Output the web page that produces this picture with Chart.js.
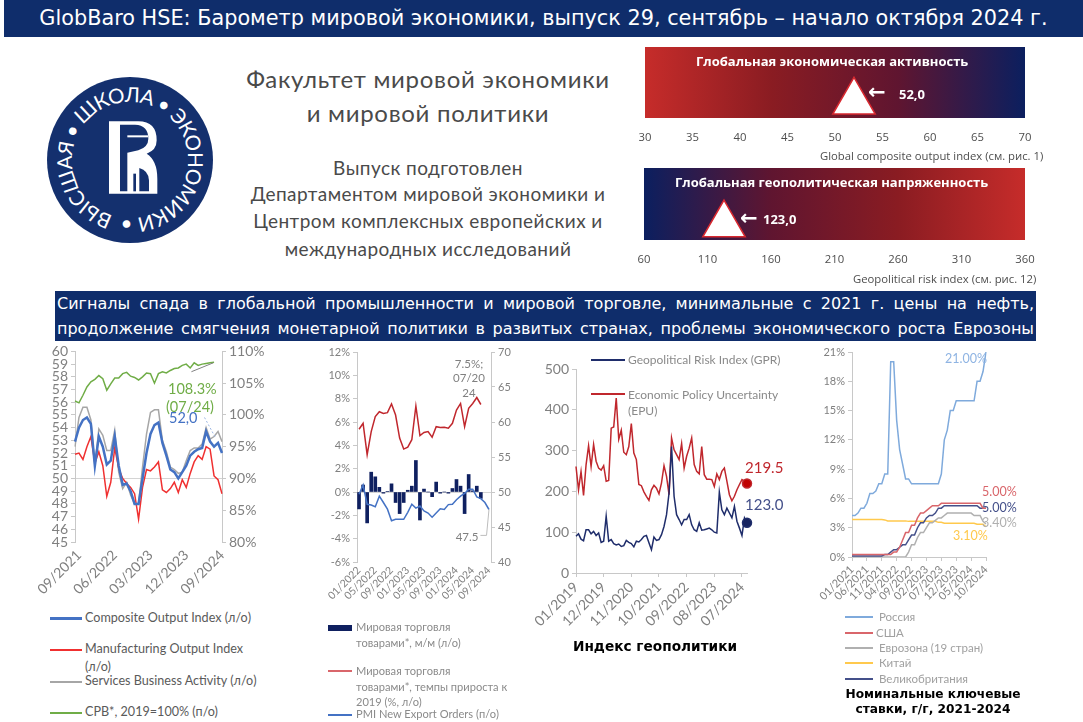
<!DOCTYPE html>
<html lang="ru">
<head>
<meta charset="utf-8">
<title>GlobBaro HSE</title>
<script src="https://cdn.jsdelivr.net/npm/chart.js@4"></script>
<style>
  html, body { margin: 0; padding: 0; background: #fff; }
  #page { position: relative; width: 1083px; height: 722px; overflow: hidden; font-family: Lato, sans-serif; }
  #page canvas { position: absolute; }
  .t { position: absolute; white-space: nowrap; line-height: 20px; }
  .c { transform: translateX(-50%); text-align: center; }
  .band { position: absolute; background: #0f2d6b; color: #fff; font-family: "DejaVu Sans", sans-serif; }
  .sw { position: absolute; }
  .head { color: #4a4a4a; font-size: 24px; letter-spacing: 0.7px; }
  .sub { color: #4a4a4a; font-size: 19px; letter-spacing: 0.45px; }
  .gt { color: #fff; font-family: "Open Sans", sans-serif; font-weight: 700; }
  .gc { color: #4d4d4d; font-family: "Open Sans", sans-serif; font-size: 11.3px; }
  .l1 { color: #5a5a5a; font-size: 12.6px; }
  .l2 { color: #8a8a8a; font-size: 11.1px; }
  .l3 { color: #8a8a8a; font-size: 12px; }
  .l4 { color: #a0a0a0; font-size: 11.5px; }
  .cap { color: #000; font-family: "DejaVu Sans", sans-serif; font-weight: 700; }
</style>
</head>
<body>
<div id="page">
  <div class="band" style="left:4px;top:0;width:1079px;height:37px;line-height:37px;font-size:20.8px;text-align:center;">GlobBaro HSE: Барометр мировой экономики, выпуск 29, сентябрь – начало октября 2024 г.</div>

  <svg style="position:absolute;left:0;top:0" width="240" height="270">
    <circle cx="130" cy="160" r="83" fill="#14306e"/>
    <defs><path id="ring" d="M113,215.5 A58,58 0 0 1 147,104.5 A58,58 0 0 1 113,215.5"/></defs>
    <text font-family="Lato, sans-serif" font-size="20.5" fill="#fff"><textPath href="#ring" textLength="356" lengthAdjust="spacing">ВЫСШАЯ • ШКОЛА • ЭКОНОМИКИ •</textPath></text>
    <g transform="translate(100,112) scale(0.3333)">
      <path fill="#fff" d="M27,28 H115 Q170,28 170,85 Q170,115 140,125 Q172,145 172,200 V245 H27 Z"/>
      <path fill="#14306e" d="M60,38 H105 Q145,40 145,80 Q145,105 115,115 L82,122 V238 H60 Z"/>
      <rect fill="#fff" x="82" y="70" width="62" height="6"/>
      <path fill="#14306e" d="M118,168 Q145,175 147,205 V238 H118 Z"/>
      <rect fill="#14306e" x="100" y="185" width="8" height="53"/>
    </g>
  </svg>

  <div class="t c head" style="left:428px;top:69px;">Факультет мировой экономики</div>
  <div class="t c head" style="left:428px;top:103px;">и мировой политики</div>
  <div class="t c sub" style="left:428px;top:158px;">Выпуск подготовлен</div>
  <div class="t c sub" style="left:428px;top:184px;">Департаментом мировой экономики и</div>
  <div class="t c sub" style="left:428px;top:211px;">Центром комплексных европейских и</div>
  <div class="t c sub" style="left:428px;top:239px;">международных исследований</div>

  <canvas id="gaugeActivity" width="440" height="110" style="left:620px;top:40px"></canvas>
  <canvas id="gaugeRisk" width="440" height="110" style="left:620px;top:162px"></canvas>
  <div class="t gt" style="left:696px;top:51px;font-size:13px;">Глобальная экономическая активность</div>
  <div class="t gt" style="left:675px;top:172px;font-size:13px;">Глобальная геополитическая напряженность</div>
  <div class="t gt" style="left:868px;top:82px;font-size:21px;font-family:'DejaVu Sans'">←</div>
  <div class="t gt" style="left:899px;top:84px;font-size:13px;">52,0</div>
  <div class="t gt" style="left:740px;top:208px;font-size:21px;font-family:'DejaVu Sans'">←</div>
  <div class="t gt" style="left:763px;top:209px;font-size:13px;">123,0</div>
  <div class="t gc" style="left:820px;top:146px;">Global composite output index (см. рис. 1)</div>
  <div class="t gc" style="left:853px;top:269px;">Geopolitical risk index (см. рис. 12)</div>

  <div class="band" style="left:55px;top:291px;width:981px;height:50px;font-size:16px;line-height:25px;">
    <div style="padding:0 2px;white-space:nowrap;text-align:justify;text-align-last:justify;">Сигналы спада в глобальной промышленности и мировой торговле, минимальные с 2021 г. цены на нефть,</div>
    <div style="padding:0 2px;white-space:nowrap;text-align:justify;text-align-last:justify;">продолжение смягчения монетарной политики в развитых странах, проблемы экономического роста Еврозоны</div>
  </div>

  <canvas id="pmiChart" width="290" height="262" style="left:0;top:340px"></canvas>
  <canvas id="tradeChart" width="230" height="282" style="left:300px;top:340px"></canvas>
  <canvas id="riskChart" width="260" height="300" style="left:530px;top:340px"></canvas>
  <canvas id="ratesChart" width="293" height="260" style="left:790px;top:340px"></canvas>

  <div class="t" style="left:168px;top:379px;font-size:14.5px;color:#70ad47;">108.3%</div>
  <div class="t" style="left:166px;top:397px;font-size:14.5px;color:#70ad47;">(07/24)</div>
  <div class="t" style="left:169px;top:408px;font-size:14.5px;color:#4472c4;">52,0</div>

  <div class="t c" style="left:469px;top:354px;font-size:11.5px;color:#808080;">7.5%;</div>
  <div class="t c" style="left:469px;top:368px;font-size:11.5px;color:#808080;">07/20</div>
  <div class="t c" style="left:469px;top:383px;font-size:11.5px;color:#808080;">24</div>
  <div class="t c" style="left:467px;top:527px;font-size:11.5px;color:#808080;">47.5</div>

  <div class="sw" style="left:591px;top:359px;width:34px;height:2px;background:#1f2d6b"></div>
  <div class="t l3" style="left:628px;top:350px;">Geopolitical Risk Index (GPR)</div>
  <div class="sw" style="left:591px;top:393px;width:34px;height:2px;background:#c0272d"></div>
  <div class="t l3" style="left:628px;top:385px;">Economic Policy Uncertainty</div>
  <div class="t l3" style="left:628px;top:401px;">(EPU)</div>
  <div class="t" style="left:745px;top:457px;font-size:15px;color:#c0272d;">219.5</div>
  <div class="t" style="left:745px;top:494px;font-size:15px;color:#44508a;">123.0</div>

  <div class="t" style="left:945px;top:349px;font-size:12.5px;color:#8fb4e3;">21.00%</div>
  <div class="t" style="left:982px;top:482px;font-size:12.5px;color:#d9666b;">5.00%</div>
  <div class="t" style="left:982px;top:498px;font-size:12.5px;color:#44508a;">5.00%</div>
  <div class="t" style="left:982px;top:513px;font-size:12.5px;color:#b0b0b0;">3.40%</div>
  <div class="t" style="left:953px;top:526px;font-size:12.5px;color:#ffc94d;">3.10%</div>

  <div class="sw" style="left:50px;top:617px;width:32px;height:2.5px;background:#4472c4"></div>
  <div class="t l1" style="left:85px;top:608px;">Composite Output Index (л/о)</div>
  <div class="sw" style="left:50px;top:649px;width:32px;height:1.5px;background:#f03030"></div>
  <div class="t l1" style="left:85px;top:639px;">Manufacturing Output Index</div>
  <div class="t l1" style="left:85px;top:657px;">(л/о)</div>
  <div class="sw" style="left:50px;top:681px;width:32px;height:1.5px;background:#a6a6a6"></div>
  <div class="t l1" style="left:85px;top:671px;">Services Business Activity (л/о)</div>
  <div class="sw" style="left:50px;top:712px;width:32px;height:1.5px;background:#70ad47"></div>
  <div class="t l1" style="left:85px;top:702px;">СРВ*, 2019=100% (п/о)</div>

  <div class="sw" style="left:328px;top:625px;width:24px;height:6px;background:#0f2060"></div>
  <div class="t l2" style="left:356px;top:617px;">Мировая торговля</div>
  <div class="t l2" style="left:356px;top:633px;">товарами*, м/м (л/о)</div>
  <div class="sw" style="left:328px;top:670px;width:24px;height:2px;background:#d9666b"></div>
  <div class="t l2" style="left:356px;top:661px;">Мировая торговля</div>
  <div class="t l2" style="left:356px;top:677px;">товарами*, темпы прироста к</div>
  <div class="t l2" style="left:356px;top:692px;">2019 (%, л/о)</div>
  <div class="sw" style="left:328px;top:714px;width:24px;height:1.5px;background:#4472c4"></div>
  <div class="t l2" style="left:356px;top:704px;">PMI New Export Orders (п/о)</div>

  <div class="t c cap" style="left:655px;top:636px;font-size:13.7px;">Индекс геополитики</div>

  <div class="sw" style="left:845px;top:616px;width:28px;height:2px;background:#7faadc"></div>
  <div class="t l4" style="left:879px;top:607px;">Россия</div>
  <div class="sw" style="left:845px;top:632px;width:28px;height:2px;background:#d9666b"></div>
  <div class="t l4" style="left:876px;top:623px;">США</div>
  <div class="sw" style="left:845px;top:647px;width:28px;height:2px;background:#b0b0b0"></div>
  <div class="t l4" style="left:879px;top:638px;">Еврозона (19 стран)</div>
  <div class="sw" style="left:845px;top:662px;width:28px;height:2px;background:#ffc94d"></div>
  <div class="t l4" style="left:879px;top:653px;">Китай</div>
  <div class="sw" style="left:845px;top:678px;width:28px;height:2px;background:#44508a"></div>
  <div class="t l4" style="left:879px;top:669px;">Великобритания</div>

  <div class="t c cap" style="left:933px;top:684px;font-size:12.2px;">Номинальные ключевые</div>
  <div class="t c cap" style="left:933px;top:699px;font-size:12.2px;">ставки, г/г, 2021-2024</div>
</div>

<script>
// --- data ---

// PMI panel, monthly, 08/2021 - 09/2024
const pmiTicks = ['09/2021', '06/2022', '03/2023', '12/2023', '09/2024'];
const composite = [52.9, 54.0, 54.6, 54.8, 54.3, 51.0, 53.3, 52.5, 51.1, 51.4, 53.3, 51.0, 49.5, 49.6, 49.0, 48.0, 48.0, 50.0, 52.0, 53.5, 54.2, 54.4, 52.8, 51.8, 50.7, 50.5, 50.0, 50.5, 51.0, 51.8, 52.1, 52.3, 52.4, 53.7, 52.9, 52.5, 52.8, 52.0];
const manufacturing = [51.9, 52.0, 51.5, 52.5, 53.3, 51.2, 52.1, 51.0, 48.6, 49.7, 52.4, 50.8, 50.0, 49.6, 49.3, 48.8, 46.8, 49.3, 50.7, 50.6, 50.9, 51.3, 49.1, 48.9, 49.2, 49.7, 48.9, 49.9, 49.3, 50.4, 51.3, 51.8, 51.5, 52.5, 52.3, 50.2, 49.9, 48.8];
const services = [52.5, 54.8, 55.6, 55.6, 54.6, 51.0, 53.9, 53.4, 52.2, 52.2, 53.8, 50.5, 49.2, 49.7, 48.7, 48.0, 48.0, 50.9, 53.5, 55.2, 55.4, 55.4, 53.0, 52.1, 50.9, 50.7, 50.4, 50.5, 51.4, 52.2, 52.4, 52.4, 52.7, 54.0, 53.1, 53.3, 53.7, 52.9];
const worldTradeCpb = [102.2, 101.9, 103.1, 104.4, 105.2, 105.6, 106.2, 105.7, 103.9, 104.9, 105.8, 105.8, 106.5, 106.7, 106.1, 105.9, 105.5, 106.0, 106.6, 106.5, 105.0, 106.5, 106.8, 106.6, 107.0, 107.3, 107.4, 107.8, 108.0, 107.4, 108.2, 107.8, 108.0, 108.1, 108.2, 108.3, null, null];

// trade panel, monthly, 01/2022 - 09/2024
const tradeTicks = ['01/2022', '05/2022', '09/2022', '01/2023', '05/2023', '09/2023', '01/2024', '05/2024', '09/2024'];
const tradeMoM = [-1.45, 0.6, -2.65, 1.7, 1.3, 0.4, -0.1, 0.05, 0.7, -0.9, -1.85, -0.9, 0.15, 0.5, 2.7, -2.4, 0.25, 0, -0.4, 0.85, -0.1, 0, -0.1, 0.3, 1.07, 0.5, -1.85, 1.5, 0.1, 0.5, -0.55, null, null];
const tradeTo2019 = [5.38, 5.89, 3.2, 5.18, 6.46, 6.88, 6.74, 6.8, 7.54, 6.6, 4.62, 3.68, 3.85, 4.48, 7.37, 4.84, 5.1, 5.18, 4.7, 5.6, 5.52, 5.55, 5.47, 5.89, 7.03, 7.59, 5.6, 7.17, 7.59, 8.1, 7.5, null, null];
const exportOrders = [49.67, 51.0, 48.25, 48.15, 47.9, 49.4, 48.5, 47.55, 45.9, 46.1, 46.1, 46.1, 47.1, 48.25, 47.7, 48.0, 47.3, 47.0, 46.4, 47.0, 47.6, 47.5, 48.2, 48.25, 48.9, 49.4, 49.8, 50.4, 50.4, 49.3, 49.05, 48.5, 47.5];

// risk panel, monthly, 01/2019 - 09/2024
const riskTicks = ['01/2019', '12/2019', '11/2020', '10/2021', '09/2022', '08/2023', '07/2024'];
const gpr = [90, 96, 83, 79, 106, 106, 96, 102, 92, 98, 75, 78, 139, 78, 82, 72, 69, 71, 65, 67, 80, 75, 72, 64, 78, 76, 82, 90, 92, 74, 57, 88, 80, 82, 94, 114, 143, 196, 310, 188, 143, 131, 118, 131, 131, 143, 118, 106, 102, 123, 105, 106, 108, 110, 106, 100, 98, 198, 155, 143, 159, 147, 135, 163, 127, 110, 92, 135, 123];
const epu = [261, 204, 249, 190, 265, 312, 261, 315, 274, 257, 252, 263, 225, 227, 355, 358, 429, 328, 350, 296, 290, 310, 366, 294, 278, 217, 214, 199, 188, 178, 204, 215, 208, 194, 221, 263, 237, 192, 331, 302, 290, 278, 317, 257, 286, 306, 331, 266, 249, 243, 310, 241, 230, 230, 229, 212, 243, 229, 249, 257, 225, 192, 177, 188, 204, 217, 229, 225, 219.5];

// key rates panel, monthly, 01/2021 - 10/2024
const ratesTicks = ['01/2021', '06/2021', '11/2021', '04/2022', '09/2022', '02/2023', '07/2023', '12/2023', '05/2024', '10/2024'];
const russia = [4.25, 4.25, 4.5, 5, 5, 5.5, 6.5, 6.5, 6.75, 7.5, 7.5, 8.5, 8.5, 20, 20, 14, 11, 9.5, 8, 8, 7.5, 7.5, 7.5, 7.5, 7.5, 7.5, 7.5, 7.5, 7.5, 7.5, 8.5, 12, 13, 15, 15, 16, 16, 16, 16, 16, 16, 16, 18, 18, 19, 21];
const usa = [0.25, 0.25, 0.25, 0.25, 0.25, 0.25, 0.25, 0.25, 0.25, 0.25, 0.25, 0.25, 0.25, 0.25, 0.5, 0.5, 1, 1.75, 2.5, 2.5, 3.25, 3.25, 4, 4.5, 4.5, 4.75, 5, 5.25, 5.25, 5.25, 5.5, 5.5, 5.5, 5.5, 5.5, 5.5, 5.5, 5.5, 5.5, 5.5, 5.5, 5.5, 5.5, 5.5, 5, 5];
const eurozone = [0, 0, 0, 0, 0, 0, 0, 0, 0, 0, 0, 0, 0, 0, 0, 0, 0, 0, 0, 0.5, 1.25, 1.25, 2, 2.5, 2.5, 3, 3.5, 3.5, 3.75, 4, 4, 4.25, 4.5, 4.5, 4.5, 4.5, 4.5, 4.5, 4.5, 4.5, 4.5, 4.25, 4.25, 4.25, 3.65, 3.4];
const china = [3.85, 3.85, 3.85, 3.85, 3.85, 3.85, 3.85, 3.85, 3.85, 3.85, 3.85, 3.8, 3.7, 3.7, 3.7, 3.7, 3.7, 3.7, 3.7, 3.65, 3.65, 3.65, 3.65, 3.65, 3.65, 3.65, 3.65, 3.65, 3.65, 3.55, 3.55, 3.45, 3.45, 3.45, 3.45, 3.45, 3.45, 3.45, 3.45, 3.45, 3.45, 3.45, 3.35, 3.35, 3.35, 3.1];
const uk = [0.1, 0.1, 0.1, 0.1, 0.1, 0.1, 0.1, 0.1, 0.1, 0.1, 0.1, 0.25, 0.25, 0.5, 0.75, 0.75, 1, 1.25, 1.25, 1.75, 2.25, 2.25, 3, 3.5, 3.5, 4, 4.25, 4.25, 4.5, 5, 5, 5.25, 5.25, 5.25, 5.25, 5.25, 5.25, 5.25, 5.25, 5.25, 5.25, 5.25, 5.25, 5, 5, 5];

// top gauges
const activityValue = 52;
const riskValue = 123;

// --- helpers ---
Chart.defaults.animation = false;
Chart.defaults.responsive = false;
Chart.defaults.layout.autoPadding = false;
Chart.defaults.font.family = 'Lato, sans-serif';
Chart.defaults.color = '#808080';
Chart.defaults.plugins.legend.display = false;
Chart.defaults.plugins.tooltip.enabled = false;

const AXIS_GREY = '#c8c8c8';

const monthRange = (startMonth, startYear, count) => {
    const out = [];
    for (let i = 0; i < count; i++) {
        const m = (startMonth - 1 + i) % 12 + 1;
        const y = startYear + Math.floor((startMonth - 1 + i) / 12);
        out.push(String(m).padStart(2, '0') + '/' + y);
    }
    return out;
};

const lineSet = (data, color, width, extra) => Object.assign({
    type: 'line', data, borderColor: color, backgroundColor: color,
    borderWidth: width, pointRadius: 0, tension: 0, spanGaps: false
}, extra);

// keeps the axis bands at a fixed size so the plot area lands where it should
const fixedWidth = (w) => (scale) => { scale.width = w; };
const fixedHeight = (h) => (scale) => { scale.height = h; };

const xAxis = (ticks, fontSize, height, line, pad) => ({
    offset: false,
    afterFit: fixedHeight(height),
    border: { display: line, color: AXIS_GREY },
    grid: {
        drawOnChartArea: false, drawTicks: line, tickLength: 4,
        tickColor: (ctx) => (ctx.tick && ctx.tick.label ? AXIS_GREY : 'transparent')
    },
    ticks: {
        autoSkip: false, maxRotation: 45, minRotation: 45, padding: pad,
        font: { size: fontSize },
        callback(v) {
            const l = this.getLabelForValue(v);
            return ticks.includes(l) ? l : '';
        }
    }
});

const yAxis = (min, max, step, fontSize, width, zero, suffix, right) => ({
    position: right ? 'right' : 'left',
    min, max,
    afterFit: fixedWidth(width),
    border: { display: true, color: AXIS_GREY },
    grid: {
        drawOnChartArea: zero !== null, tickLength: 4, tickColor: AXIS_GREY,
        color: (ctx) => (ctx.tick && ctx.tick.value === zero ? '#d4d4d4' : 'transparent')
    },
    ticks: {
        stepSize: step, autoSkip: false, padding: 3, font: { size: fontSize },
        callback: (v) => v + suffix
    }
});

// thin callout lines next to the value labels, given in data coordinates
const leaders = {
    id: 'leaders',
    afterDatasetsDraw(chart, args, opts) {
        const { ctx, scales } = chart;
        (opts.lines || []).forEach((line) => {
            ctx.save();
            ctx.strokeStyle = line.color;
            ctx.lineWidth = 1;
            ctx.setLineDash(line.dash || []);
            ctx.beginPath();
            line.points.forEach(([x, y], i) => {
                const px = scales.x.getPixelForValue(x);
                const py = scales[line.axis].getPixelForValue(y);
                if (i === 0) ctx.moveTo(px, py); else ctx.lineTo(px, py);
            });
            ctx.stroke();
            ctx.restore();
        });
    }
};

// red/navy band behind the gauges
const bandFill = {
    id: 'bandFill',
    beforeDatasetsDraw(chart, args, opts) {
        const { ctx, chartArea: a } = chart;
        const g = ctx.createLinearGradient(a.left, 0, a.right, 0);
        opts.stops.forEach((c, i) => g.addColorStop(i / (opts.stops.length - 1), c));
        ctx.fillStyle = g;
        ctx.fillRect(a.left, a.top, a.right - a.left, a.bottom - a.top);
    }
};

const gauge = (id, value, min, max, step, stops, pad, markY) => new Chart(document.getElementById(id), {
    type: 'scatter',
    plugins: [bandFill],
    data: {
        datasets: [{
            data: [{ x: value, y: markY }],
            pointStyle: 'triangle', pointRadius: 24.5,
            backgroundColor: '#fff', borderColor: '#d8282f', borderWidth: 1.5
        }]
    },
    options: {
        layout: { padding: pad },
        plugins: { bandFill: { stops } },
        scales: {
            x: {
                type: 'linear', min, max,
                afterFit: fixedHeight(32),
                border: { display: false },
                grid: { display: false },
                ticks: {
                    stepSize: step, maxRotation: 0, padding: 5, color: '#4d4d4d',
                    font: { family: '"Open Sans", sans-serif', size: 11.3 }
                }
            },
            y: { display: false, min: 0, max: 1 }
        }
    }
});

// --- charts ---
gauge('gaugeActivity', activityValue, 30, 70, 5, ['#c62c2a', '#8a1c22', '#5f1530', '#0b1f5f'], { left: 25, right: 35, top: 7 }, 0.228);
gauge('gaugeRisk', riskValue, 60, 360, 50, ['#0b1f5f', '#5f1530', '#8a1c22', '#c62c2a'], { left: 24, right: 35, top: 6 }, 0.215);

new Chart(document.getElementById('pmiChart'), {
    type: 'line',
    plugins: [leaders],
    data: {
        labels: monthRange(8, 2021, composite.length),
        datasets: [
            lineSet(composite, '#4472c4', 2.5, { yAxisID: 'y', order: 1 }),
            lineSet(manufacturing, '#f03030', 1.5, { yAxisID: 'y', order: 2 }),
            lineSet(services, '#a6a6a6', 1.5, { yAxisID: 'y', order: 3 }),
            lineSet(worldTradeCpb, '#70ad47', 1.5, { yAxisID: 'y1', order: 4 })
        ]
    },
    options: {
        layout: { padding: { top: 11 } },
        plugins: {
            leaders: {
                lines: [
                    { axis: 'y1', color: '#808080', points: [[29.3, 106.8], [34.8, 108.2]] },
                    { axis: 'y', color: '#9db7e3', dash: [2, 2], points: [[32.6, 54.8], [35.2, 53.3]] }
                ]
            }
        },
        scales: {
            x: xAxis(pmiTicks, 14, 60, false, 5),
            y: yAxis(45, 60, 1, 14, 75, 50, '', false),
            y1: yAxis(80, 110, 5, 14, 68, null, '%', true)
        }
    }
});

const tradeX = xAxis(tradeTicks, 10.5, 60, false, 2);
tradeX.offset = true;

new Chart(document.getElementById('tradeChart'), {
    data: {
        labels: monthRange(1, 2022, exportOrders.length),
        datasets: [
            lineSet(tradeTo2019, '#c0272d', 1.5, { yAxisID: 'y', order: 1 }),
            lineSet(exportOrders, '#4472c4', 1.5, { yAxisID: 'y1', order: 2 }),
            { type: 'bar', data: tradeMoM, backgroundColor: '#0f2060', barThickness: 3, yAxisID: 'y', order: 3 }
        ]
    },
    plugins: [leaders],
    options: {
        layout: { padding: { top: 12 } },
        plugins: {
            leaders: {
                lines: [{ axis: 'y1', color: '#bdbdbd', points: [[32, 47.5], [31.4, 43.8], [29.9, 43.8]] }]
            }
        },
        scales: {
            x: tradeX,
            y: yAxis(-6, 12, 2, 11, 57, 0, '%', false),
            y1: yAxis(40, 70, 5, 11, 39, null, '', true)
        }
    }
});

new Chart(document.getElementById('riskChart'), {
    type: 'line',
    data: {
        labels: monthRange(1, 2019, gpr.length),
        datasets: [
            lineSet(gpr, '#1f2d6b', 1.5, {
                pointRadius: (c) => (c.dataIndex === gpr.length - 1 ? 4.5 : 0), pointBackgroundColor: '#16235f'
            }),
            lineSet(epu, '#c0272d', 1.5, {
                pointRadius: (c) => (c.dataIndex === epu.length - 1 ? 4.5 : 0), pointBackgroundColor: '#c00000'
            })
        ]
    },
    options: {
        layout: { padding: { top: 29, right: 43 } },
        scales: {
            x: xAxis(riskTicks, 14, 67, true, 2),
            y: yAxis(0, 500, 100, 14, 46, null, '', false)
        }
    }
});

new Chart(document.getElementById('ratesChart'), {
    type: 'line',
    data: {
        labels: monthRange(1, 2021, russia.length),
        datasets: [
            lineSet(russia, '#7faadc', 1.5),
            lineSet(usa, '#d9666b', 1.5),
            lineSet(uk, '#44508a', 1.5),
            lineSet(eurozone, '#b0b0b0', 1.5),
            lineSet(china, '#ffc94d', 1.5)
        ]
    },
    options: {
        layout: { padding: { top: 12, right: 97 } },
        scales: {
            x: xAxis(ratesTicks, 11, 43, true, 2),
            y: yAxis(0, 21, 3, 11, 62, null, '%', false)
        }
    }
});
</script>
</body>
</html>
